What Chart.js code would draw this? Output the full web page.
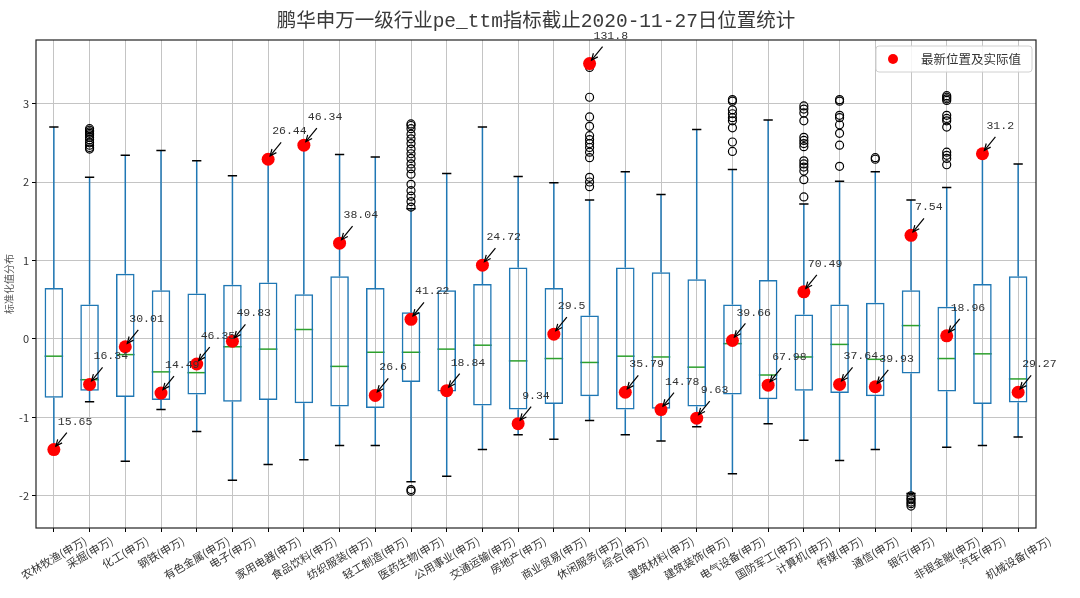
<!DOCTYPE html>
<html>
<head>
<meta charset="utf-8">
<style>
  html, body { margin: 0; padding: 0; background: #fff; }
  #wrap { width: 1080px; height: 598px; }
</style>
</head>
<body>
<div id="wrap"><canvas id="myChart"></canvas></div>

<script src="https://cdn.jsdelivr.net/npm/chart.js"></script>

<script>
// 行业名称
const categories = ['农林牧渔(申万)', '采掘(申万)', '化工(申万)', '钢铁(申万)', '有色金属(申万)', '电子(申万)',
  '家用电器(申万)', '食品饮料(申万)', '纺织服装(申万)', '轻工制造(申万)', '医药生物(申万)', '公用事业(申万)',
  '交通运输(申万)', '房地产(申万)', '商业贸易(申万)', '休闲服务(申万)', '综合(申万)', '建筑材料(申万)',
  '建筑装饰(申万)', '电气设备(申万)', '国防军工(申万)', '计算机(申万)', '传媒(申万)', '通信(申万)',
  '银行(申万)', '非银金融(申万)', '汽车(申万)', '机械设备(申万)'];

// 箱线图五个统计量 (标准化值)
const whiskerLow  = [-1.41, -0.80, -1.56, -0.90, -1.18, -1.80, -1.60, -1.54, -1.36, -1.36, -1.82, -1.75, -1.41, -1.22,
  -1.28, -1.04, -1.22, -1.30, -1.12, -1.72, -1.08, -1.29, -1.55, -1.41, -1.97, -1.38, -1.36, -1.25];
const q1          = [-0.75, -0.66, -0.74, -0.78, -0.71, -0.80, -0.78, -0.82, -0.86, -0.88, -0.55, -0.67, -0.85, -0.90,
  -0.83, -0.73, -0.90, -0.89, -0.86, -0.71, -0.77, -0.66, -0.69, -0.73, -0.44, -0.67, -0.83, -0.81];
const median      = [-0.22, -0.52, -0.20, -0.42, -0.43, -0.10, -0.13, 0.12, -0.35, -0.17, -0.17, -0.13, -0.08, -0.28,
  -0.25, -0.30, -0.22, -0.23, -0.36, -0.06, -0.46, -0.23, -0.07, -0.26, 0.17, -0.25, -0.19, -0.51];
const q3          = [0.65, 0.44, 0.83, 0.62, 0.58, 0.69, 0.72, 0.57, 0.80, 0.65, 0.34, 0.62, 0.70, 0.91,
  0.65, 0.30, 0.91, 0.85, 0.76, 0.44, 0.75, 0.31, 0.44, 0.46, 0.62, 0.41, 0.70, 0.80];
const whiskerHigh = [2.70, 2.06, 2.34, 2.40, 2.27, 2.08, 2.29, 2.47, 2.35, 2.32, 1.66, 2.11, 2.70, 2.07,
  1.99, 1.77, 2.13, 1.84, 2.67, 2.16, 2.79, 1.72, 2.01, 2.13, 1.77, 1.93, 2.36, 2.23];

// 异常值
const outliers = [
  [],
  [2.42, 2.44, 2.47, 2.50, 2.54, 2.57, 2.60, 2.62, 2.64, 2.66, 2.68],
  [], [], [], [], [], [], [], [],
  [-1.92, -1.94, 1.68, 1.75, 1.82, 1.89, 1.97, 2.10, 2.17, 2.23, 2.30, 2.36, 2.42, 2.49, 2.55, 2.61, 2.68, 2.72, 2.74],
  [], [], [], [],
  [1.94, 2.00, 2.06, 2.31, 2.38, 2.44, 2.49, 2.54, 2.59, 2.71, 2.83, 3.08, 3.46],
  [], [], [],
  [2.39, 2.51, 2.69, 2.78, 2.82, 2.87, 2.92, 3.03, 3.05],
  [],
  [1.81, 2.03, 2.14, 2.19, 2.23, 2.27, 2.45, 2.49, 2.53, 2.57, 2.78, 2.88, 2.93, 2.97],
  [2.20, 2.47, 2.62, 2.73, 2.82, 2.85, 3.03, 3.05],
  [2.29, 2.31],
  [-2.00, -2.03, -2.05, -2.08, -2.10, -2.13],
  [2.22, 2.30, 2.34, 2.38, 2.70, 2.78, 2.81, 2.85, 3.04, 3.06, 3.08, 3.10],
  [], []
];

// 最新位置及实际值
const latestPos   = [-1.41, -0.58, -0.10, -0.69, -0.32, -0.03, 2.29, 2.47, 1.22, -0.72, 0.25, -0.66, 0.94, -1.08,
  0.06, 3.51, -0.68, -0.90, -1.01, -0.02, -0.59, 0.60, -0.58, -0.61, 1.32, 0.04, 2.36, -0.68];
const latestValue = ['15.65', '16.34', '30.01', '14.49', '46.35', '49.83', '26.44', '46.34', '38.04', '26.6',
  '41.22', '18.84', '24.72', '9.34', '29.5', '131.8', '35.79', '14.78', '9.63', '39.66', '67.98', '70.49',
  '37.64', '39.93', '7.54', '18.96', '31.2', '29.27'];

const yTicks = [-2, -1, 0, 1, 2, 3];

const titleText = '鹏华申万一级行业pe_ttm指标截止2020-11-27日位置统计';
const yTitle = '标准化值分布';
const legendText = '最新位置及实际值';

const BLUE = '#1f77b4';
const GREEN = '#2ca02c';
const CJK = '"Noto Sans CJK SC", sans-serif';

const boxData = categories.map((c, i) => [q1[i], q3[i]]);
const redData = categories.map((c, i) => ({ x: c, y: latestPos[i] }));
const outData = [];
outliers.forEach((arr, i) => arr.forEach(v => outData.push({ x: categories[i], y: v })));

function arrow(ctx, x1, y1, x2, y2) {
  ctx.beginPath();
  ctx.moveTo(x1, y1);
  ctx.lineTo(x2, y2);
  ctx.stroke();
  const a = Math.atan2(y2 - y1, x2 - x1), L = 7, s = 0.42;
  ctx.beginPath();
  ctx.moveTo(x2 - L * Math.cos(a - s), y2 - L * Math.sin(a - s));
  ctx.lineTo(x2, y2);
  ctx.lineTo(x2 - L * Math.cos(a + s), y2 - L * Math.sin(a + s));
  ctx.stroke();
}

// 须线、端线、中位线
const boxParts = {
  id: 'boxParts',
  beforeDatasetsDraw(chart) {
    const { ctx, scales: { x, y } } = chart;
    const meta = chart.getDatasetMeta(2);
    ctx.save();
    categories.forEach((c, i) => {
      const px = x.getPixelForValue(i);
      const half = meta.data[i].width / 2;
      ctx.lineWidth = 1.5;
      ctx.strokeStyle = BLUE;
      ctx.beginPath();
      ctx.moveTo(px, y.getPixelForValue(q3[i]));
      ctx.lineTo(px, y.getPixelForValue(whiskerHigh[i]));
      ctx.moveTo(px, y.getPixelForValue(q1[i]));
      ctx.lineTo(px, y.getPixelForValue(whiskerLow[i]));
      ctx.stroke();
      ctx.strokeStyle = '#000';
      ctx.beginPath();
      [whiskerHigh[i], whiskerLow[i]].forEach(v => {
        const py = y.getPixelForValue(v);
        ctx.moveTo(px - half / 2, py);
        ctx.lineTo(px + half / 2, py);
      });
      ctx.stroke();
      ctx.strokeStyle = GREEN;
      ctx.beginPath();
      const pm = y.getPixelForValue(median[i]);
      ctx.moveTo(px - half, pm);
      ctx.lineTo(px + half, pm);
      ctx.stroke();
    });
    ctx.restore();
  },
  afterDatasetsDraw(chart) {
    const { ctx, scales: { x, y } } = chart;
    ctx.save();
    ctx.strokeStyle = '#000';
    ctx.fillStyle = '#333';
    ctx.lineWidth = 1.2;
    ctx.font = '11.5px "Liberation Mono", monospace';
    ctx.textBaseline = 'middle';
    ctx.textAlign = 'left';
    categories.forEach((c, i) => {
      const px = x.getPixelForValue(i);
      const py = y.getPixelForValue(latestPos[i]);
      arrow(ctx, px + 13, py - 17, px + 2, py - 3.5);
      ctx.fillText(latestValue[i], px + 4, py - 28);
    });
    ctx.restore();
  },
  afterDraw(chart) {
    const { ctx, chartArea: a, scales: { x } } = chart;
    ctx.save();
    // 边框
    ctx.strokeStyle = '#222';
    ctx.lineWidth = 1.2;
    ctx.strokeRect(a.left, a.top, a.right - a.left, a.bottom - a.top);
    // 标题
    ctx.fillStyle = '#3a3a3a';
    ctx.font = '19.5px "Liberation Mono", ' + CJK;
    ctx.textAlign = 'center';
    ctx.textBaseline = 'middle';
    ctx.fillText(titleText, (a.left + a.right) / 2, 22);
    // y 轴标题
    ctx.save();
    ctx.font = '10px ' + CJK;
    ctx.fillStyle = '#555';
    ctx.translate(9, (a.top + a.bottom) / 2);
    ctx.rotate(-Math.PI / 2);
    ctx.fillText(yTitle, 0, 0);
    ctx.restore();
    // x 轴标签 (居中旋转 30 度)
    ctx.font = '11px ' + CJK;
    ctx.fillStyle = '#333';
    categories.forEach((c, i) => {
      const px = x.getPixelForTick(i);
      const w = ctx.measureText(c).width;
      const h = 11;
      const bh = w * 0.5 + h * 0.866;
      ctx.save();
      ctx.translate(px, a.bottom + 7 + bh / 2);
      ctx.rotate(-Math.PI / 6);
      ctx.fillText(c, 0, 0);
      ctx.restore();
    });
    // 图例
    const lx = a.right - 160, ly = a.top + 6, lw = 156, lh = 26;
    ctx.fillStyle = 'rgba(255,255,255,0.85)';
    ctx.strokeStyle = '#d0d0d0';
    ctx.lineWidth = 1;
    ctx.beginPath();
    ctx.roundRect(lx, ly, lw, lh, 3);
    ctx.fill();
    ctx.stroke();
    ctx.fillStyle = 'red';
    ctx.beginPath();
    ctx.arc(lx + 17, ly + lh / 2, 5, 0, Math.PI * 2);
    ctx.fill();
    ctx.fillStyle = '#333';
    ctx.font = '12.5px ' + CJK;
    ctx.textAlign = 'left';
    ctx.fillText(legendText, lx + 45, ly + lh / 2);
    ctx.restore();
  }
};

const ctx = document.getElementById('myChart').getContext('2d');

new Chart(ctx, {
  type: 'bar',
  data: {
    labels: categories,
    datasets: [
      {
        type: 'line',
        label: legendText,
        data: redData,
        showLine: false,
        pointRadius: 6.5,
        pointHoverRadius: 6.5,
        pointBackgroundColor: 'red',
        pointBorderColor: 'red',
        pointBorderWidth: 0,
        order: 0
      },
      {
        type: 'line',
        label: 'outliers',
        data: outData,
        showLine: false,
        pointRadius: 4,
        pointHoverRadius: 4,
        pointBackgroundColor: 'rgba(0,0,0,0)',
        pointBorderColor: '#000',
        pointBorderWidth: 1.2,
        order: 1
      },
      {
        type: 'bar',
        label: 'box',
        data: boxData,
        backgroundColor: 'rgba(0,0,0,0)',
        borderColor: BLUE,
        borderWidth: 1.5,
        borderSkipped: false,
        barPercentage: 0.52,
        categoryPercentage: 1.0,
        order: 2
      }
    ]
  },
  options: {
    responsive: true,
    maintainAspectRatio: false,
    animation: false,
    layout: { padding: { top: 40, right: 44, left: 0, bottom: 0 } },
    plugins: {
      legend: { display: false },
      tooltip: { enabled: false },
      title: { display: false }
    },
    scales: {
      x: {
        offset: true,
        grid: { offset: false, color: '#c4c4c4', lineWidth: 1, tickColor: '#000', tickLength: 4 },
        border: { display: false },
        ticks: { display: false },
        afterFit(scale) {
          scale.height = 70;
          scale.paddingLeft = 0;
          scale.paddingRight = 0;
        }
      },
      y: {
        min: -2.41,
        max: 3.81,
        grid: { color: '#c4c4c4', lineWidth: 1, tickColor: '#000', tickLength: 4 },
        border: { display: false },
        ticks: { color: '#333', font: { family: CJK, size: 11 }, padding: 3 },
        afterBuildTicks(scale) {
          scale.ticks = yTicks.map(v => ({ value: v }));
        },
        afterFit(scale) {
          scale.width = 36;
        }
      }
    }
  },
  plugins: [boxParts]
});
</script>
</body>
</html>
